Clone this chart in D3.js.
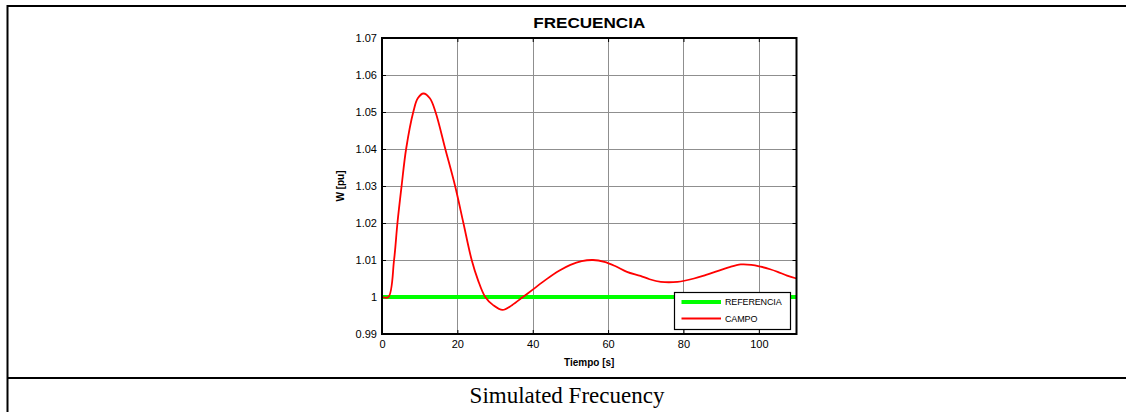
<!DOCTYPE html>
<html>
<head>
<meta charset="utf-8">
<script src="https://cdn.jsdelivr.net/npm/d3@7"></script>
<style>
  html, body { margin: 0; padding: 0; background: #fff; }
  svg { display: block; }
</style>
</head>
<body>
<svg id="chart"></svg>
<script>
// =====================================================
// Data
// =====================================================
const tiempo = [0, 1.7, 3.2, 4.1, 5.2, 6.4, 8.3, 9.5, 11, 12.7, 14.2, 16.8, 19.4, 21.6, 23.8, 25.5,
  27.4, 29.5, 32, 34.5, 37.4, 40, 43.5, 47, 50, 53, 56, 59, 62, 65, 68.6, 71, 74, 78.4, 82.8,
  86, 89, 92, 95.2, 98, 100.5, 103, 105, 107.5, 110];
const campo = [1.0, 1.0, 1.01, 1.02, 1.03, 1.04, 1.05, 1.0537, 1.055, 1.0537, 1.05, 1.04, 1.03, 1.02, 1.01, 1.0045,
  1.0, 0.9978, 0.9965, 0.9978, 1.0, 1.002, 1.0047, 1.0071, 1.0087, 1.0097, 1.0100, 1.0095, 1.0083, 1.0068, 1.0057, 1.0048, 1.0041, 1.0041, 1.005,
  1.006, 1.007, 1.008, 1.0088, 1.0087, 1.0082, 1.0075, 1.0068, 1.0058, 1.005];
const referenciaT = [0, 110];
const referencia  = [1.0, 1.0];

const xTicks = [0, 20, 40, 60, 80, 100];
const yTicks = [0.99, 1.0, 1.01, 1.02, 1.03, 1.04, 1.05, 1.06, 1.07];
const seriesNames = ["REFERENCIA", "CAMPO"];

// =====================================================
// Layout
// =====================================================
const W = 1126, H = 412;
const plot = { left: 382, top: 38, right: 796.5, bottom: 334 };

const svg = d3.select("#chart").attr("width", W).attr("height", H);

// outer table frame
const frame = svg.append("g").attr("stroke", "#000").attr("stroke-width", 2);
frame.append("line").attr("x1", 7.5).attr("x2", W).attr("y1", 6).attr("y2", 6);
frame.append("line").attr("x1", 7.5).attr("x2", 7.5).attr("y1", 5).attr("y2", H);
frame.append("line").attr("x1", 7.5).attr("x2", W).attr("y1", 378).attr("y2", 378);

// scales
const x = d3.scaleLinear().domain([0, 110]).range([plot.left, plot.right]);
const y = d3.scaleLinear().domain([0.99, 1.07]).range([plot.bottom, plot.top]);

// ----------
// Grid
// =================
const grid = svg.append("g").attr("stroke", "#8f8f8f").attr("stroke-width", 1);
grid.selectAll(".gx").data(xTicks.slice(1)).enter().append("line")
  .attr("x1", d => Math.round(x(d)) + 0.5).attr("x2", d => Math.round(x(d)) + 0.5)
  .attr("y1", plot.top).attr("y2", plot.bottom);
grid.selectAll(".gy").data(yTicks.slice(1, -1)).enter().append("line")
  .attr("y1", d => Math.round(y(d)) + 0.5).attr("y2", d => Math.round(y(d)) + 0.5)
  .attr("x1", plot.left).attr("x2", plot.right);

// ----------
// Axes (box with inner ticks)
// =================
const fmtY = d => String(+d.toFixed(2));
const axisFont = g => g.selectAll("text")
  .attr("font-family", "Liberation Sans, Arial, sans-serif").attr("font-size", 11).attr("fill", "#000");

const ax = svg.append("g");
ax.append("g").attr("transform", `translate(0,${plot.bottom})`)
  .call(d3.axisBottom(x).tickValues(xTicks).tickSize(-4).tickPadding(6))
  .call(g => g.select(".domain").remove()).call(axisFont);
ax.append("g").attr("transform", `translate(0,${plot.top})`)
  .call(d3.axisTop(x).tickValues(xTicks).tickSize(-4).tickFormat(""))
  .call(g => g.select(".domain").remove());
ax.append("g").attr("transform", `translate(${plot.left},0)`)
  .call(d3.axisLeft(y).tickValues(yTicks).tickSize(-4).tickPadding(5).tickFormat(fmtY))
  .call(g => g.select(".domain").remove()).call(axisFont);
ax.append("g").attr("transform", `translate(${plot.right},0)`)
  .call(d3.axisRight(y).tickValues(yTicks).tickSize(-4).tickFormat(""))
  .call(g => g.select(".domain").remove());
ax.selectAll(".tick line").attr("stroke", "#000");

// ----------
// Lines
// =================
const line = d3.line().x(d => x(d[0])).y(d => y(d[1]));
svg.append("path")
  .datum(d3.zip(referenciaT, referencia))
  .attr("fill", "none").attr("stroke", "#00ff00").attr("stroke-width", 4)
  .attr("d", line);
svg.append("path")
  .datum(d3.zip(tiempo, campo))
  .attr("fill", "none").attr("stroke", "#ff0000").attr("stroke-width", 1.8)
  .attr("d", line.curve(d3.curveCatmullRom.alpha(0.5)));

// plot box
svg.append("rect")
  .attr("x", plot.left).attr("y", plot.top)
  .attr("width", plot.right - plot.left).attr("height", plot.bottom - plot.top)
  .attr("fill", "none").attr("stroke", "#000").attr("stroke-width", 2);

// ----------
// Legend
// =================
const leg = svg.append("g").attr("transform", "translate(674.5,292.5)");
leg.append("rect").attr("width", 116).attr("height", 37)
  .attr("fill", "#fff").attr("stroke", "#000").attr("stroke-width", 1.2);
const legColors = ["#00ff00", "#ff0000"], legWidths = [4, 1.8];
seriesNames.forEach((name, i) => {
  const yy = 9.5 + i * 16.5;
  leg.append("line").attr("x1", 7).attr("x2", 46.5).attr("y1", yy).attr("y2", yy)
    .attr("stroke", legColors[i]).attr("stroke-width", legWidths[i]);
  leg.append("text").attr("x", 50.5).attr("y", yy + 3.3)
    .attr("font-family", "Liberation Sans, Arial, sans-serif").attr("font-size", 9)
    .attr("letter-spacing", -0.15).text(name);
});

// ----------
// Titles
// =================
const cx = (plot.left + plot.right) / 2;
svg.append("text").attr("x", cx).attr("y", 27.5).attr("text-anchor", "middle")
  .attr("font-family", "Liberation Sans, Arial, sans-serif").attr("font-weight", "bold")
  .attr("font-size", 15).attr("textLength", 112).attr("lengthAdjust", "spacingAndGlyphs")
  .text("FRECUENCIA");
svg.append("text").attr("x", cx).attr("y", 366).attr("text-anchor", "middle")
  .attr("font-family", "Liberation Sans, Arial, sans-serif").attr("font-weight", "bold")
  .attr("font-size", 10).text("Tiempo [s]");
svg.append("text").attr("transform", `translate(344,${(plot.top + plot.bottom) / 2}) rotate(-90)`)
  .attr("text-anchor", "middle")
  .attr("font-family", "Liberation Sans, Arial, sans-serif").attr("font-weight", "bold")
  .attr("font-size", 10).text("W [pu]");

// caption
svg.append("text").attr("x", 567).attr("y", 403).attr("text-anchor", "middle")
  .attr("font-family", "Liberation Serif, Times New Roman, serif")
  .attr("font-size", 23).text("Simulated Frecuency");
</script>
</body>
</html>
